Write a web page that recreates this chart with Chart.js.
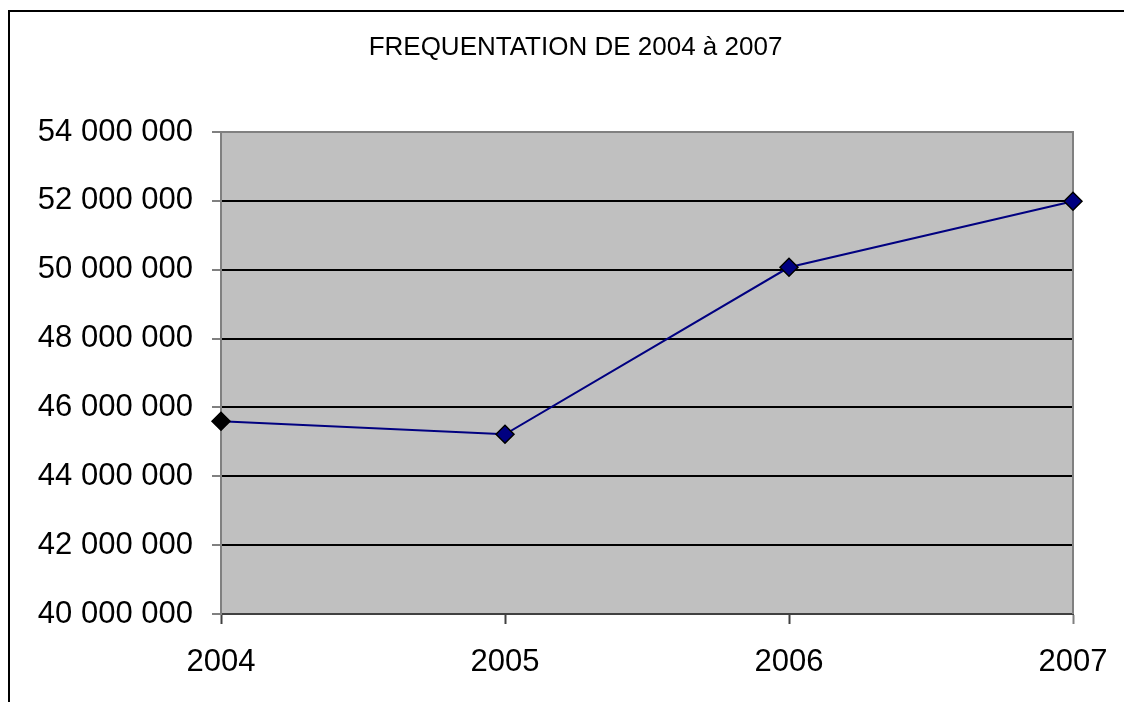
<!DOCTYPE html>
<html>
<head>
<meta charset="utf-8">
<script src="https://cdn.jsdelivr.net/npm/chart.js@4/dist/chart.umd.min.js"></script>
<style>
  html, body { margin: 0; padding: 0; background: #ffffff; }
  canvas { display: block; }
</style>
</head>
<body>
<canvas id="c" width="1124" height="702"></canvas>
<script>
const titleText = 'FREQUENTATION DE 2004 à 2007';
const categories = ['2004', '2005', '2006', '2007'];
const visitors = [45600000, 45220000, 50070000, 51990000];
const markerFill = ['#000000', '#000080', '#000080', '#000080'];
const yMin = 40000000;
const yMax = 54000000;
const yStep = 2000000;

function fmt(v) {
  return String(Math.round(v)).replace(/\B(?=(\d{3})+(?!\d))/g, ' ');
}

const FONT = '"Liberation Sans", Arial, sans-serif';

const decor = {
  id: 'decor',
  beforeDraw(chart) {
    const a = chart.chartArea, ctx = chart.ctx;
    ctx.save();
    ctx.fillStyle = '#ffffff';
    ctx.fillRect(0, 0, chart.width, chart.height);
    ctx.fillStyle = '#c0c0c0';
    ctx.fillRect(a.left, a.top, a.right - a.left, a.bottom - a.top);
    ctx.restore();
  },
  beforeDatasetsDraw(chart) {
    const a = chart.chartArea, ctx = chart.ctx;
    ctx.save();
    ctx.strokeStyle = '#808080';
    ctx.lineWidth = 2;
    ctx.beginPath();
    ctx.moveTo(a.left, a.top);
    ctx.lineTo(a.right, a.top);
    ctx.lineTo(a.right, a.bottom);
    ctx.stroke();
    ctx.restore();
  },
  afterDraw(chart) {
    const ctx = chart.ctx;
    ctx.save();
    ctx.strokeStyle = '#000000';
    ctx.lineWidth = 2;
    ctx.strokeRect(9, 11, 3000, 3000);
    ctx.restore();
  }
};

new Chart(document.getElementById('c'), {
  type: 'line',
  data: {
    labels: categories,
    datasets: [{
      data: visitors,
      yAxisID: 'y',
      borderColor: '#000080',
      borderWidth: 2,
      pointStyle: 'rectRot',
      pointRadius: 9,
      pointHoverRadius: 9,
      pointBackgroundColor: markerFill,
      pointBorderColor: '#000000',
      pointBorderWidth: 1.5,
      tension: 0,
      fill: false
    }]
  },
  options: {
    responsive: false,
    devicePixelRatio: 1,
    animation: false,
    events: [],
    layout: { padding: { left: 27, right: 0, top: 0, bottom: 0 } },
    plugins: {
      legend: { display: false },
      tooltip: { enabled: false },
      title: {
        display: true,
        text: titleText,
        color: '#000000',
        font: { family: FONT, size: 26, weight: 'normal', lineHeight: 1.2 },
        padding: { top: 32, bottom: 68.8 }
      }
    },
    scales: {
      x: {
        type: 'category',
        offset: false,
        afterFit(s) { s.height = 88; s.paddingLeft = 0; s.paddingRight = 0; },
        grid: {
          drawOnChartArea: false,
          drawTicks: true,
          tickLength: 10,
          tickWidth: 2,
          tickColor: (c) => c.index === categories.length - 1 ? '#808080' : '#404040'
        },
        border: { display: true, color: '#404040', width: 2 },
        ticks: {
          color: '#000000',
          padding: 20,
          maxRotation: 0,
          autoSkip: false,
          font: { family: FONT, size: 31 }
        }
      },
      y: {
        position: 'left',
        min: yMin,
        max: yMax,
        afterFit(s) { s.width = 194; },
        grid: {
          color: (c) => (c.tick && c.tick.value === yMax) ? '#808080' : (c.tick && c.tick.value === yMin ? '#404040' : '#000000'),
          lineWidth: 2,
          drawTicks: true,
          tickLength: 9,
          tickColor: '#808080',
          tickWidth: 2
        },
        border: { display: true, color: '#808080', width: 2 },
        ticks: {
          stepSize: yStep,
          color: '#000000',
          padding: 19,
          callback: (v) => fmt(v),
          font: { family: FONT, size: 31 }
        }
      },
      yRightSpace: {
        position: 'right',
        min: yMin,
        max: yMax,
        afterFit(s) { s.width = 51; },
        grid: { display: false, drawTicks: false },
        border: { display: false },
        ticks: { display: false }
      }
    }
  },
  plugins: [decor]
});
</script>
</body>
</html>
